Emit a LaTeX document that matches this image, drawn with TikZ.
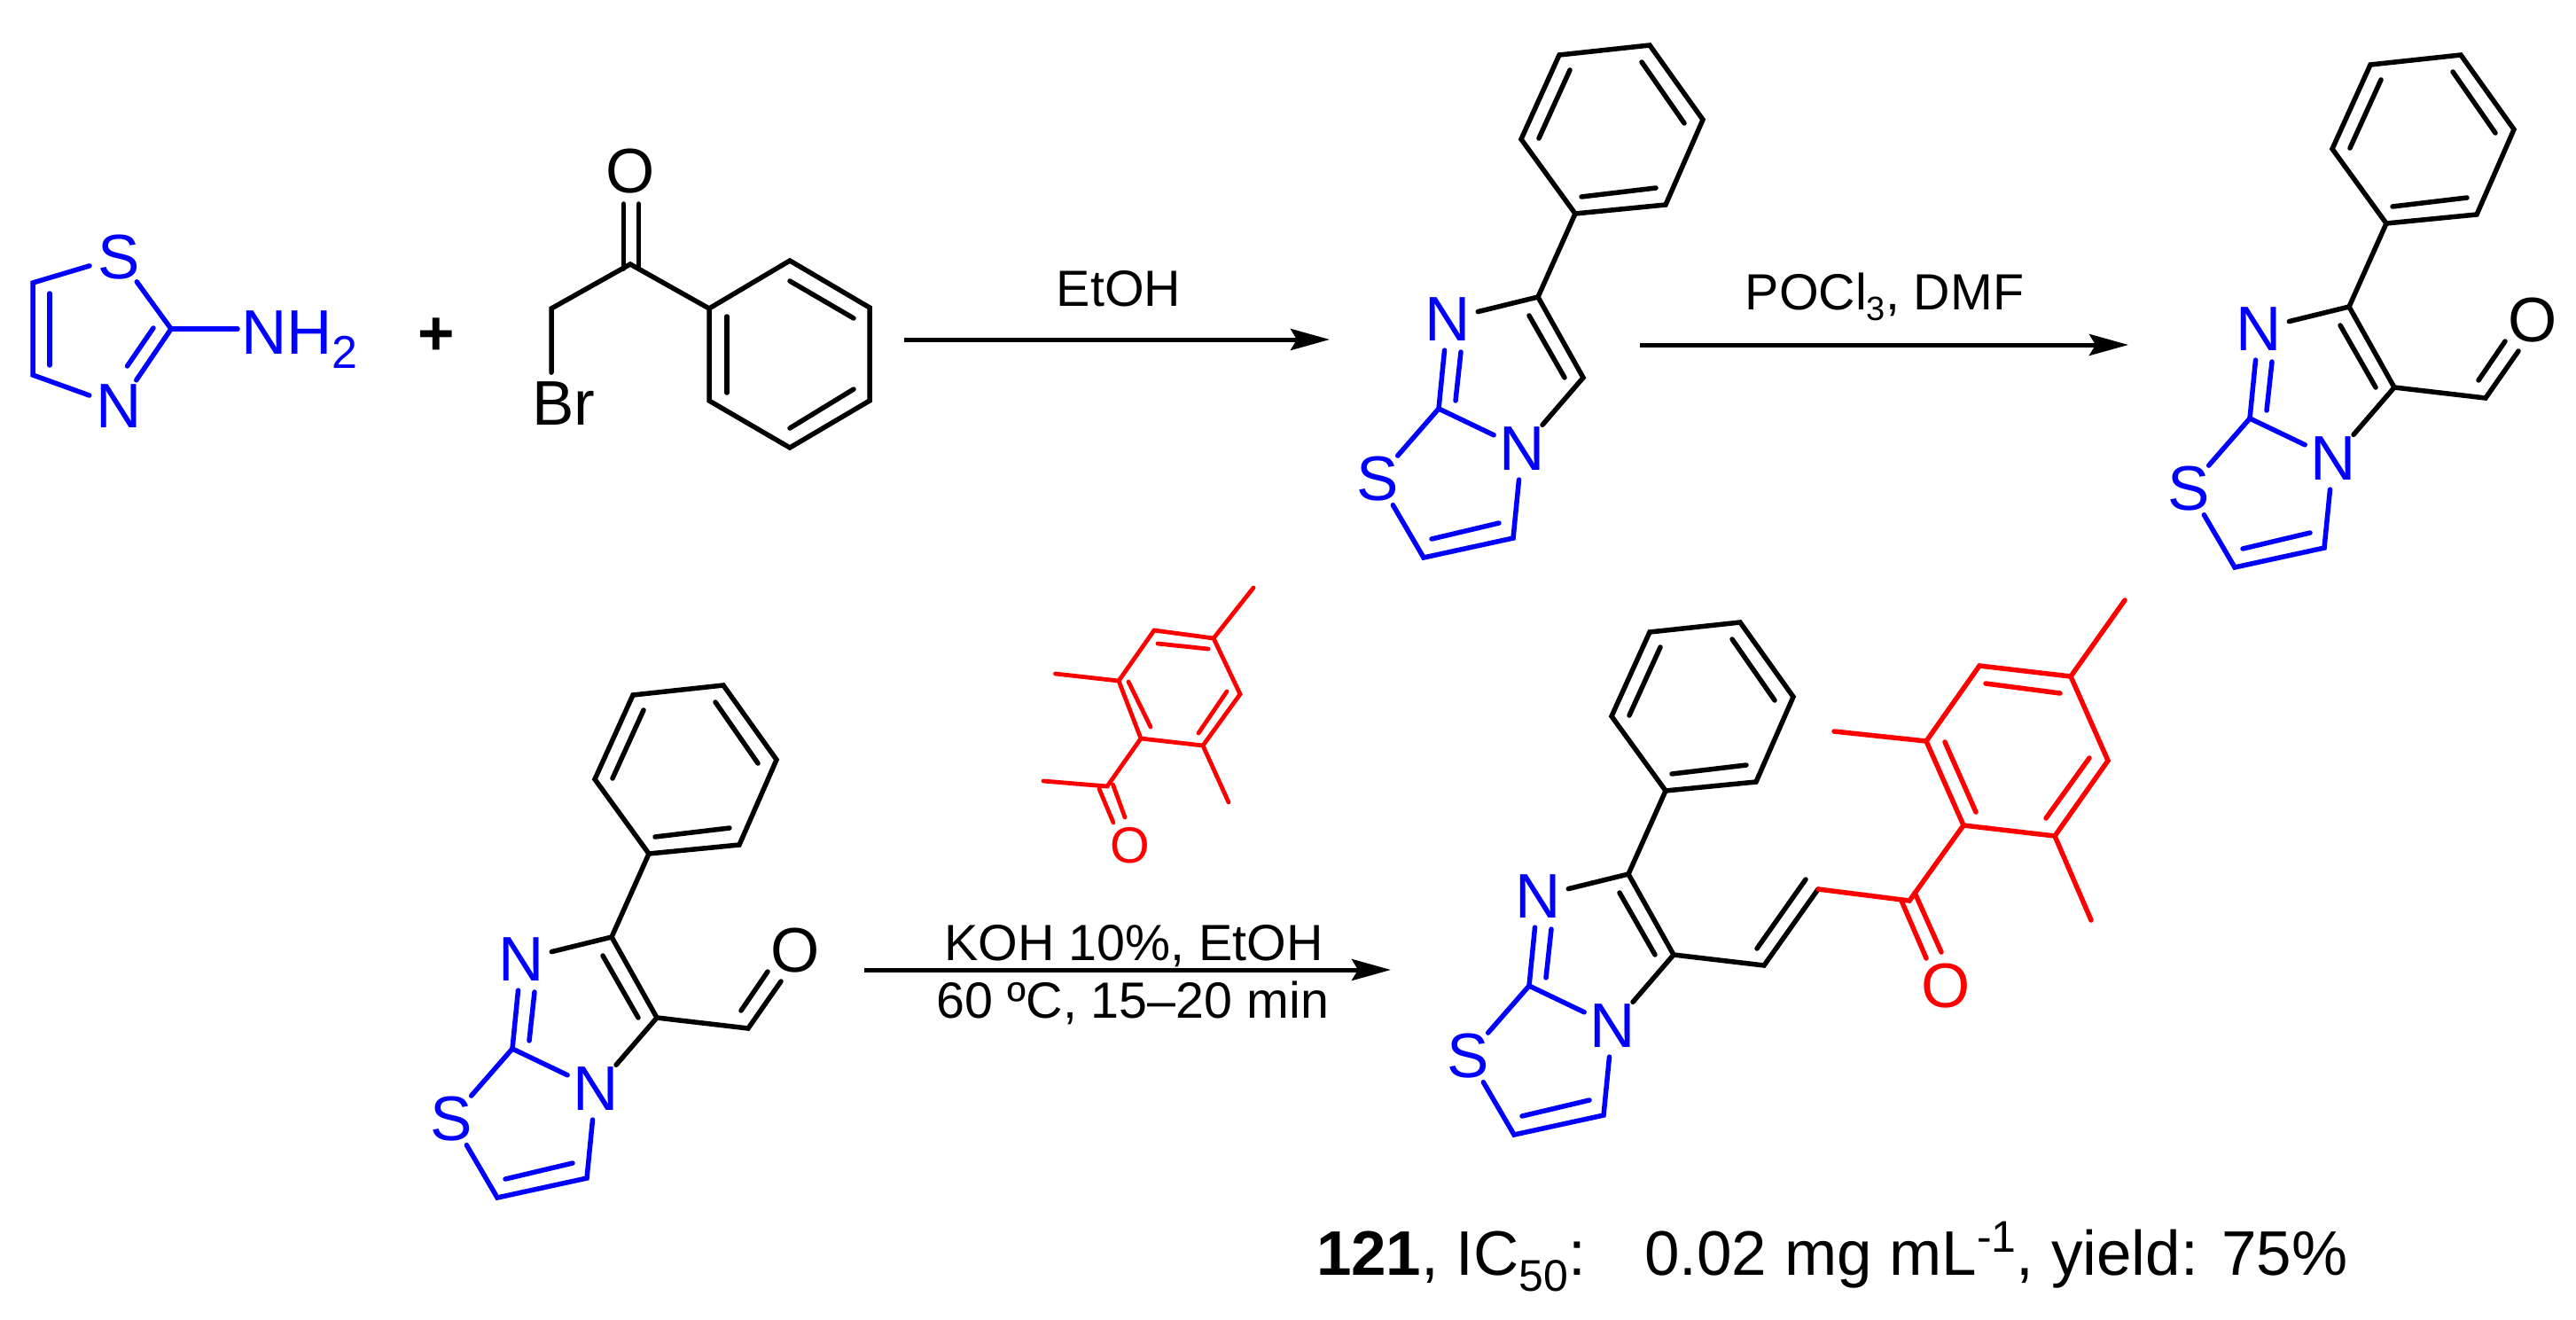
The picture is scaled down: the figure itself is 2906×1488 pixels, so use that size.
\documentclass[tikz,border=0pt]{standalone}
\usepackage{fontspec}
\setmainfont{Liberation Sans}
\usetikzlibrary{arrows.meta}
\definecolor{chemblue}{RGB}{0,0,255}
\definecolor{chemred}{RGB}{255,0,0}
\newcommand{\fbig}{\fontsize{35.5}{42}\selectfont}
\newcommand{\fmid}{\fontsize{28.7}{34}\selectfont}
\tikzset{
  bond/.style={line width=2.75pt,line cap=round,line join=miter,miter limit=4},
  blk/.style={bond,draw=black},
  blu/.style={bond,draw=chemblue},
  rd/.style={bond,draw=chemred},
  rdthin/.style={bond,line width=2.4pt,draw=chemred},
  atom/.style={circle,inner sep=0pt,outer sep=0pt,minimum size=34pt,font=\fbig},
  smallatom/.style={circle,inner sep=0pt,outer sep=0pt,minimum size=30pt,font=\fmid},
  label/.style={inner sep=0pt,outer sep=0pt,font=\fbig,anchor=base west},
  rgt/.style={inner sep=0pt,outer sep=0pt,font=\fmid,text=black,anchor=base},
  rxn/.style={line width=2.5pt,draw=black,-{Stealth[length=22pt,width=12pt,inset=3.5pt]}}
}
% the imidazo[2,1-b]thiazole core with its phenyl ring, in the frame of the first copy
\newcommand{\imcore}[1]{%
  \node[atom,text=chemblue] (#1n7) at (1633,360) {N};
  \node[atom,text=chemblue] (#1n4) at (1717,506) {N};
  \node[atom,text=chemblue] (#1s1) at (1554,540) {S};
  \coordinate (#1c3) at (1735,335);
  \coordinate (#1c6) at (1786,426);
  \coordinate (#1c8) at (1623,461);
  \coordinate (#1cl) at (1606,629);
  \coordinate (#1cr) at (1707,607);
  \coordinate (#1p1) at (1777,241);
  \coordinate (#1p2) at (1879,231);
  \coordinate (#1p3) at (1921,135);
  \coordinate (#1p4) at (1861,51);
  \coordinate (#1p5) at (1759,62);
  \coordinate (#1p6) at (1716,157);
  \draw[blk] (#1n7) -- (#1c3) -- (#1c6) -- (#1n4);
  \draw[blk] (1725,356) -- (1765,426);
  \draw[blk] (#1c3) -- (#1p1);
  \draw[blk] (#1p1) -- (#1p2) -- (#1p3) -- (#1p4) -- (#1p5) -- (#1p6) -- cycle;
  \draw[blk] (1784,222) -- (1868,212);
  \draw[blk] (1900,139) -- (1852,70);
  \draw[blk] (1771,79) -- (1736,156);
  \draw[blu] (#1n7) -- (#1c8) -- (#1n4);
  \draw[blu] (1648,397) -- (1642,452);
  \draw[blu] (#1c8) -- (#1s1);
  \draw[blu] (#1s1) -- (#1cl) -- (#1cr) -- (#1n4);
  \draw[blu] (1615,608) -- (1691,590);
}
% formyl group, drawn in the frame of the first core copy
\newcommand{\formyl}[1]{%
  \node[atom,text=black] (#1o) at (1942,350) {O};
  \coordinate (#1cho) at (1889,438);
  \draw[blk] (#1c6) -- (#1cho) -- (1926,385);
  \draw[blk] (1881,418) -- (1911,374);
}
\begin{document}
\begin{tikzpicture}[x=.5pt,y=-.5pt]
\useasboundingbox (0,0) rectangle (2906,1488);
\fill[white] (0,0) rectangle (2906,1488);

% 2-aminothiazole
\node[atom,text=chemblue] (ts) at (134,290) {S};
\node[atom,text=chemblue] (tn) at (134,458) {N};
\coordinate (tc2) at (193,371);
\coordinate (tc4) at (37,423);
\coordinate (tc5) at (37,319);
\node[label,text=chemblue] (nh2) at (272,399) {NH\raisebox{-8pt}{\fontsize{26}{26}\selectfont 2}};
\draw[blu] (ts) -- (tc5) -- (tc4) -- (tn);
\draw[blu] (ts) -- (tc2) -- (tn);
\draw[blu] (173,370) -- (143.5,413);
\draw[blu] (56,331) -- (56,412);
\draw[blu,shorten >=2pt] (tc2) -- (nh2.west |- tc2);

% plus
\node[inner sep=0pt,font=\fbig\bfseries] (plus) at (492,380) {+};

% bromoacetophenone
\node[atom,text=black] (ko) at (711,193) {O};
\node[label,text=black] (br) at (600,479) {Br};
\coordinate (kc) at (711,298);
\coordinate (kch) at (622,348);
\coordinate (kp1) at (800,348);
\coordinate (kp2) at (891,294);
\coordinate (kp3) at (981,347);
\coordinate (kp4) at (981,452);
\coordinate (kp5) at (891,505);
\coordinate (kp6) at (800,452);
\draw[blk] (703.5,230) -- (703.5,303);
\draw[blk] (720.5,230) -- (720.5,303);
\draw[blk,shorten >=5pt] (kp1) -- (kc) -- (kch) -- (kch |- br.north);
\draw[blk] (kp1) -- (kp2) -- (kp3) -- (kp4) -- (kp5) -- (kp6) -- cycle;
\draw[blk] (820,357) -- (820,443);
\draw[blk] (891,317) -- (963,359);
\draw[blk] (963,439) -- (891,483);

% arrow 1
\coordinate (a1s) at (1020,383);
\coordinate (a1e) at (1500,383);
\draw[rxn] (a1s) -- (a1e);
\node[rgt] (etoh) at (1262,345) {EtOH};

% product 1
\begin{scope}[shift={(0,0)}]
\imcore{a}
\end{scope}

% arrow 2
\coordinate (a2s) at (1850,389);
\coordinate (a2e) at (2401,389);
\draw[rxn] (a2s) -- (a2e);
\node[rgt] (pocl) at (2126,349) {POCl\raisebox{-6pt}{\fontsize{19}{19}\selectfont 3}, DMF};

% aldehyde, upper right
\begin{scope}[shift={(915,11)}]
\imcore{b}
\formyl{b}
\end{scope}

% aldehyde, lower left
\begin{scope}[shift={(-1045,722)}]
\imcore{c}
\formyl{c}
\end{scope}

% acetylmesitylene reagent
\node[smallatom,text=chemred] (ro) at (1275,954) {O};
\coordinate (r1) at (1287,833);
\coordinate (r2) at (1357,841);
\coordinate (r3) at (1399,783);
\coordinate (r4) at (1369,720);
\coordinate (r5) at (1302,711);
\coordinate (r6) at (1262,768);
\coordinate (rm6) at (1190.5,760);
\coordinate (rm4) at (1414,663);
\coordinate (rm2) at (1386,905);
\coordinate (rc) at (1249,887);
\coordinate (rm) at (1177,881);
\draw[rdthin] (r1) -- (r2) -- (r3) -- (r4) -- (r5) -- (r6) -- cycle;
\draw[rdthin] (1273,769) -- (1298,820);
\draw[rdthin] (1306,726) -- (1363,732);
\draw[rdthin] (1384,780) -- (1352,827);
\draw[rdthin] (r6) -- (rm6);
\draw[rdthin] (r4) -- (rm4);
\draw[rdthin] (r2) -- (rm2);
\draw[rdthin] (r1) -- (rc) -- (rm);
\draw[rdthin] (1240,890) -- (1256,928);
\draw[rdthin] (1255.5,885) -- (1269,922);

% arrow 3
\coordinate (a3s) at (975,1094);
\coordinate (a3e) at (1569,1094);
\draw[rxn] (a3s) -- (a3e);
\node[rgt] (koh) at (1279,1083) {KOH 10\%, EtOH};
\node[rgt] (temp) at (1278,1148) {60 ºC, 15–20 min};

% chalcone 121
\begin{scope}[shift={(102,651)}]
\imcore{d}
\end{scope}
\coordinate (dv1) at (1990,1089);
\coordinate (dv2) at (2051,1003);
\coordinate (dco) at (2154,1016);
\coordinate (dq1) at (2215,931);
\coordinate (dq2) at (2318,943);
\coordinate (dq3) at (2378,858);
\coordinate (dq4) at (2336,763);
\coordinate (dq5) at (2233,751);
\coordinate (dq6) at (2173,836);
\coordinate (dm6) at (2069,825);
\coordinate (dm4) at (2397,677);
\coordinate (dm2) at (2359,1038);
\node[atom,text=chemred] (do) at (2195,1112) {O};
\draw[blk] (dc6) -- (dv1) -- (dv2);
\draw[blk] (1982,1070) -- (2037,992);
\draw[rd] (dv2) -- (dco) -- (dq1);
\draw[rd] (dq1) -- (dq2) -- (dq3) -- (dq4) -- (dq5) -- (dq6) -- cycle;
\draw[rd] (2194,837) -- (2229,916);
\draw[rd] (2240,771) -- (2324,782);
\draw[rd] (2357,855) -- (2308,923);
\draw[rd] (dq6) -- (dm6);
\draw[rd] (dq4) -- (dm4);
\draw[rd] (dq2) -- (dm2);
\draw[rd] (2145,1016) -- (2173,1081);
\draw[rd] (2160,1007) -- (2190,1074);

% caption
\node[label,text=black] (cap) at (1485,1438) {\textbf{121}, IC\raisebox{-9pt}{\fontsize{25}{25}\selectfont 50}:\hspace{33pt}0.02 mg mL\raisebox{13pt}{\fontsize{25}{25}\selectfont -1}, yield: 75\%};
\end{tikzpicture}
\end{document}
